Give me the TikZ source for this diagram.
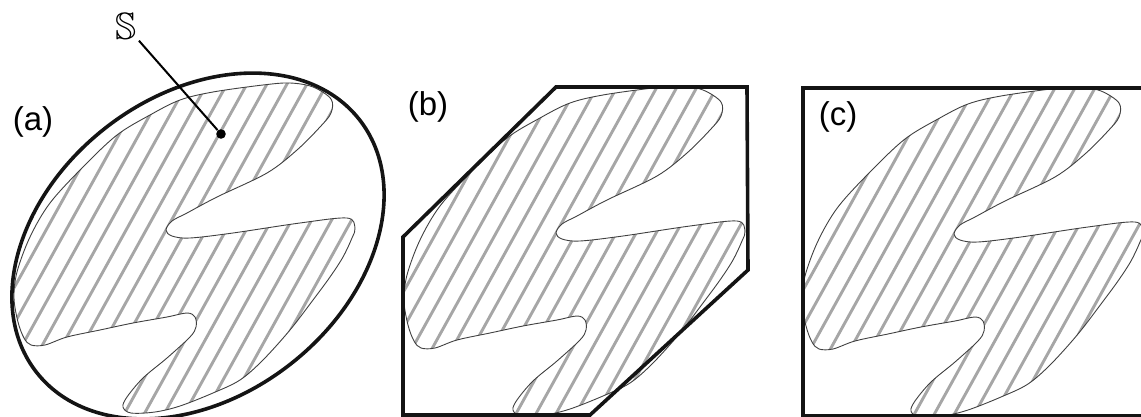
\documentclass[tikz,border=0pt]{standalone}
\usepackage{fontspec}
\usepackage{amssymb}
\setsansfont{Liberation Sans}
\usetikzlibrary{positioning}

% outline of the hatched set (panel a, pixel units)
\newcommand{\blobpath}{plot[smooth cycle, tension=0.55] coordinates {
    (313,87) (290,83) (263,85) (213,92) (180,100) (150,115) (117,135)
    (83,167) (50,203) (30,237) (17,272) (14,298) (18,322) (24,338)
    (31,345) (45,345) (67,337) (100,330) (133,323) (167,317) (187,313)
    (195,317) (196,327) (190,337) (167,358) (143,378) (127,397) (123,407)
    (131,413) (155,412) (180,406) (213,393) (240,380) (263,360) (290,330)
    (313,300) (330,277) (343,257) (352,238) (355,228) (347,218) (300,223)
    (233,233) (190,238) (172,236) (166,230) (172,221) (187,213) (217,197)
    (267,173) (297,150) (320,127) (331,113) (331,99)}}

\begin{document}
\begin{tikzpicture}[x=0.5pt, y=-0.5pt,
    outline/.style={draw=black!92, line width=1.8pt},
    hatch/.style={draw=black!35, line width=1.45pt},
    blobline/.style={draw=black!75, line width=0.45pt},
    panellabel/.style={font=\sffamily\fontsize{16.5}{18}\selectfont, inner sep=0pt},
    setname/.style={font=\fontsize{19}{21}\selectfont, inner sep=1pt},
    dotmark/.style={circle, fill=black, inner sep=0pt, minimum size=4.8pt}
]
\useasboundingbox (0,0) rectangle (1141,417);
% hatched set, repeated in each panel
\foreach \dx/\dy in {0/0, 390/3, 788/4} {
  \begin{scope}[shift={(\dx,\dy)}]
    \begin{scope}
      \clip \blobpath;
      \foreach \k in {-11,...,8}
        \draw[hatch] ({320.3+20*\k},60) -- ({115.3+20*\k},430);
    \end{scope}
    \draw[blobline] \blobpath;
  \end{scope}
}
% (a) ellipse
\draw[outline] (198,246) ellipse [x radius=205, y radius=150, rotate=38];
% (b) polygon
\draw[outline] (403,237) -- (556,87) -- (747,87) -- (748,270) -- (590,415)
    -- (403,415) -- cycle;
% (c) rectangle
\draw[outline] (803,88) rectangle (1170,416);
% labels
\node[panellabel] (la) at (33,122) {(a)};
\node[panellabel] (lb) at (428,107) {(b)};
\node[panellabel] (lc) at (838,117) {(c)};
\node[setname] (sname) at (126,26) {$\mathbb{S}$};
\node[dotmark] (spt) at (221,134) {};
\draw[line width=1pt] (sname) -- (spt);
\end{tikzpicture}
\end{document}
